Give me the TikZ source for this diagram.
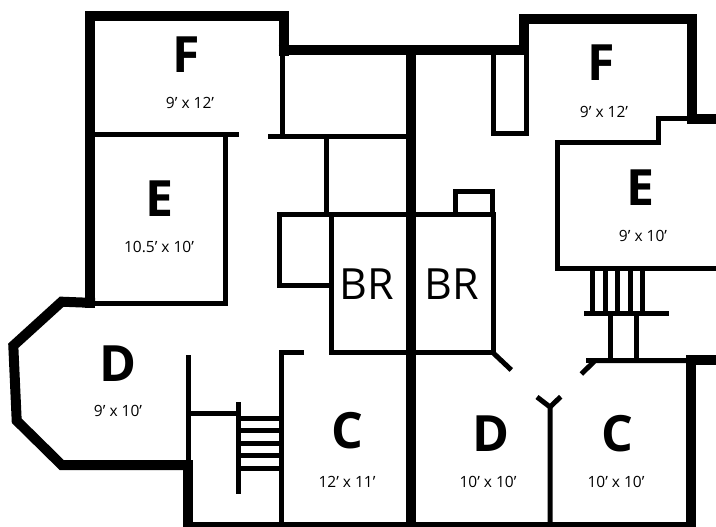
\documentclass[tikz,border=0pt]{standalone}
\usepackage{fontspec}
\setmainfont{Open Sans}
\tikzset{
  outerwall/.style={line width=10pt},
  innerwall/.style={line width=5pt},
  roomname/.style={font=\fontsize{50}{50}\selectfont\bfseries,inner sep=0pt},
  bathname/.style={font=\fontsize{43}{43}\selectfont,inner sep=0pt},
  roomsize/.style={font=\fontsize{15.5}{16}\selectfont,inner sep=0pt},
}
\begin{document}
\begin{tikzpicture}[x=1pt,y=-1pt]

      \useasboundingbox (0,0) rectangle (716,527);

      % outer walls
      \begin{scope}[outerwall]
        \draw (90,308) -- (90,15.7) -- (283.5,15.7) -- (283.5,56);
        \draw (278.5,50.5) -- (524,50.5);
        \draw (524,55) -- (524,19) -- (692,19) -- (692,123);
        \draw (687,118.7) -- (716,118.7);
        \draw (95,303) -- (61.7,301.7) -- (13.3,345.7) -- (16.7,420.7) -- (61.7,465) -- (192.7,465);
        \draw (187.7,460) -- (187.7,527);
        \draw (411,46) -- (411,527);
        \draw (716,360) -- (690.7,360) -- (690.7,527);
      \end{scope}

      % inner walls
      \begin{scope}[innerwall]
        \draw (183,524.5) -- (696,524.5);
        \draw (95,135) -- (239,135);
        \draw (225,135) -- (225,303.5) -- (95,303.5);
        \draw (282.5,50) -- (282.5,139);
        \draw (268,136.7) -- (406,136.7);
        \draw (326.7,137) -- (326.7,214);
        \draw (333,285) -- (279.7,285) -- (279.7,214) -- (493,214) -- (493,352.7) -- (331.8,352.7) -- (331.8,214);
        \draw (493,352.7) -- (511.3,370);
        \draw (455.3,214) -- (455.3,191) -- (492.3,191) -- (492.3,214);
        \draw (493.3,50) -- (493.3,134) -- (526.7,134) -- (526.7,49);
        \draw (716,268) -- (557,268) -- (557,142.5) -- (658,142.5) -- (658,118.8) -- (692,118.8);

        % right stairs
        \draw (592.5,268) -- (592.5,313);
        \draw (605,268) -- (605,313);
        \draw (617.3,268) -- (617.3,313);
        \draw (630,268) -- (630,313);
        \draw (642,268) -- (642,313);
        \draw (584,313.2) -- (669.3,313.2);
        \draw (610,313) -- (610,360);
        \draw (636.7,313) -- (636.7,360);
        \draw (686,360.7) -- (595,360.7) -- (581.3,374);
        \draw (586.3,360.7) -- (600,360.7);

        % doors
        \draw (550,527) -- (550,407) -- (537,397);
        \draw (550,407) -- (560.7,396.7);

        % left stairs
        \draw (188.3,355) -- (188.3,465);
        \draw (188,413.8) -- (238,413.8);
        \draw (238.2,402.3) -- (238.2,494);
        \draw (304,352.7) -- (281.5,352.7) -- (281.5,527);
        \draw (238,418) -- (281.5,418);
        \draw (238,430.7) -- (281.5,430.7);
        \draw (238,443) -- (281.5,443);
        \draw (238,455.7) -- (281.5,455.7);
        \draw (238,468) -- (281.5,468);
      \end{scope}

      % rooms
      \begin{scope}[every node/.style={roomname}]
        \node (leftf)  at (186,55)  {F};
        \node (lefte)  at (160,199) {E};
        \node (leftd)  at (118,364) {D};
        \node (leftc)  at (347,431) {C};
        \node (rightf) at (601,63)  {F};
        \node (righte) at (640,188) {E};
        \node (rightd) at (491,434) {D};
        \node (rightc) at (617,434) {C};
      \end{scope}

      \begin{scope}[every node/.style={roomsize}]
        \node (leftfsize)  at (190,103) {9' x 12'};
        \node (leftesize)  at (159,247) {10.5' x 10'};
        \node (leftdsize)  at (118,411) {9' x 10'};
        \node (leftcsize)  at (347,482) {12' x 11'};
        \node (rightfsize) at (604,112) {9' x 12'};
        \node (rightesize) at (643,236) {9' x 10'};
        \node (rightdsize) at (488,482) {10' x 10'};
        \node (rightcsize) at (616,482) {10' x 10'};
      \end{scope}

      \node[bathname] (leftbr)  at (367,284) {BR};
      \node[bathname] (rightbr) at (452,284) {BR};

\end{tikzpicture}
\end{document}
